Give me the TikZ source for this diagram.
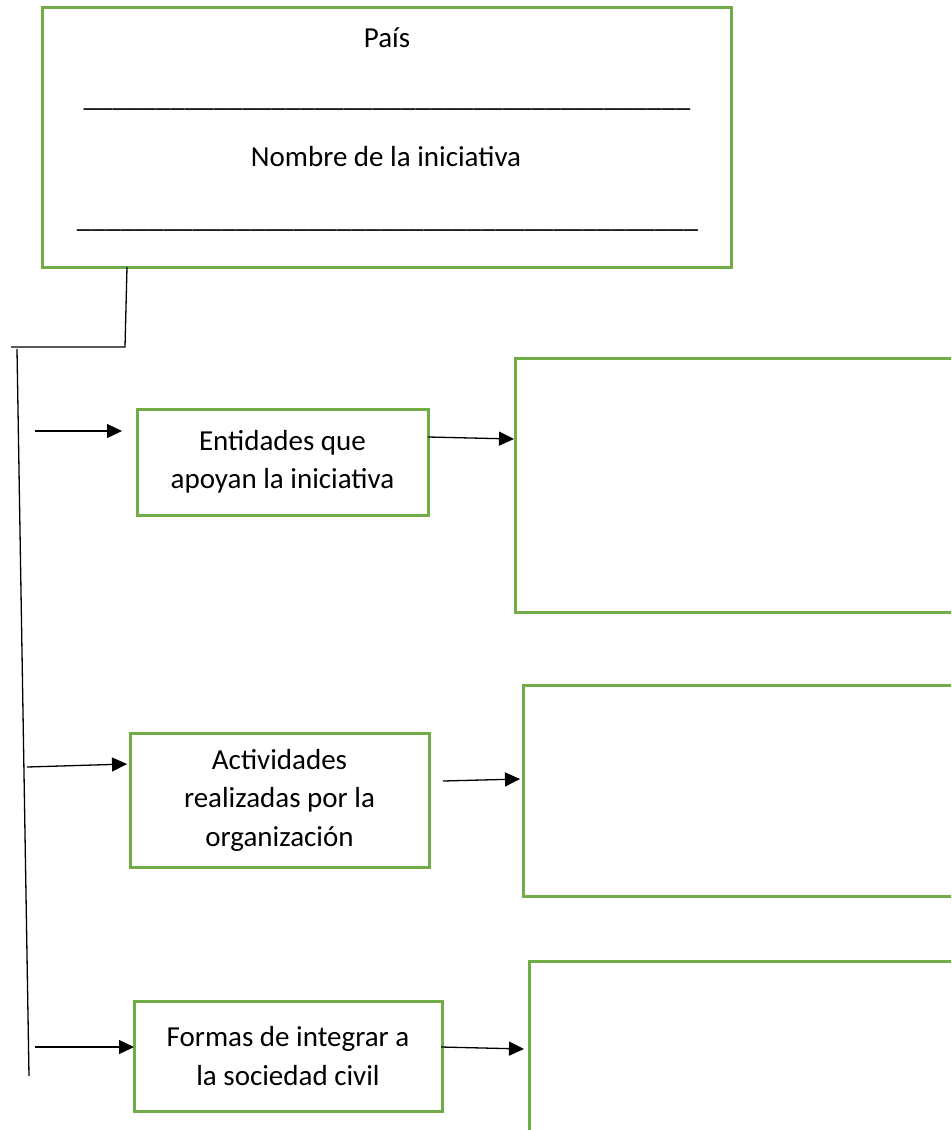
\documentclass[tikz,border=0pt]{standalone}
\usepackage{fontspec}
\setmainfont{Carlito}
\usetikzlibrary{arrows.meta}
\definecolor{boxgreen}{HTML}{70AD47}
\newcommand\myunders{\_\_\_\_\_\_\_\_\_\_}
\begin{document}
\begin{tikzpicture}[x=1pt,y=-1pt,
  greenbox/.style={draw=boxgreen, line width=3pt, inner sep=0pt, align=center,
    font=\fontsize{29}{38.5}\selectfont},
  conn/.style={line width=1.3pt, draw=black},
  arr/.style={conn, -{Triangle[length=15pt,width=14pt]}},
  lbl/.style={inner sep=0pt, font=\fontsize{29}{38.5}\selectfont}]
\useasboundingbox (0,0) rectangle (951,1130);
\clip (0,0) rectangle (951,1130);

% top box
\node[greenbox, minimum width=689pt, minimum height=260pt] (top) at (386.5,137) {};
\node[lbl] (pais) at (387,38) {País};
\node[lbl, anchor=base] (line1) at (387,106) {\myunders\myunders\myunders\myunders\_\_};
\node[lbl] (nombre) at (386,157) {Nombre de la iniciativa};
\node[lbl, anchor=base] (line2) at (387.5,227) {\myunders\myunders\myunders\myunders\_\_\_};

% left boxes
\node[greenbox, minimum width=291pt, minimum height=106pt] (b1) at (282.5,462) {Entidades que\\apoyan la iniciativa};
\node[greenbox, minimum width=299pt, minimum height=134pt] (b2) at (279.5,800) {Actividades\\realizadas por la\\organización};
\node[greenbox, minimum width=308pt, minimum height=110pt] (b3) at (288,1056) {Formas de integrar a\\la sociedad civil};

% right boxes (cut by the page edge)
\node[greenbox, minimum width=485pt, minimum height=254pt] (rb1) at (757.5,485) {};
\node[greenbox, minimum width=477pt, minimum height=211pt] (rb2) at (761.5,790.5) {};
\node[greenbox, minimum width=471pt, minimum height=239pt] (rb3) at (764.5,1080.5) {};

% connector from top box to trunk
\coordinate (t1) at (127,267);
\coordinate (t2) at (125,347);
\coordinate (t3) at (11,347);
\draw[conn] (t1) -- (t2) -- (t3);
\coordinate (v0) at (17,349);
\coordinate (v1) at (29,1076);
\draw[conn] (v0) -- (v1);

% arrows
\coordinate (a1s) at (35,431);   \coordinate (a1e) at (122,431);
\coordinate (r1s) at (428,437);  \coordinate (r1e) at (514,439);
\coordinate (a2s) at (27,767);   \coordinate (a2e) at (127,764);
\coordinate (r2s) at (443,781);  \coordinate (r2e) at (520,779);
\coordinate (a3s) at (35,1047);  \coordinate (a3e) at (134,1047);
\coordinate (r3s) at (441,1047); \coordinate (r3e) at (524,1049);
\draw[arr] (a1s) -- (a1e);
\draw[arr] (r1s) -- (r1e);
\draw[arr] (a2s) -- (a2e);
\draw[arr] (r2s) -- (r2e);
\draw[arr] (a3s) -- (a3e);
\draw[arr] (r3s) -- (r3e);
\end{tikzpicture}
\end{document}
